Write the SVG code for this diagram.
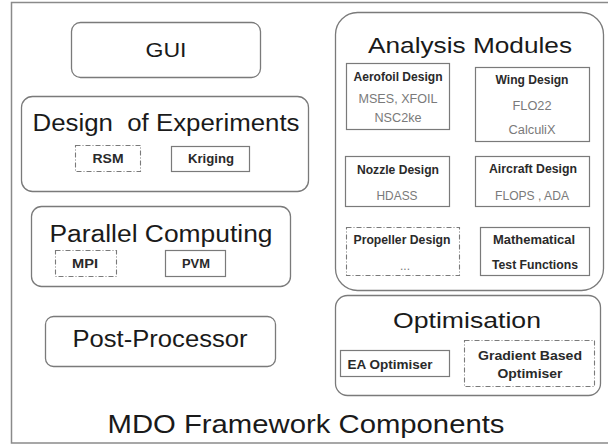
<svg xmlns="http://www.w3.org/2000/svg" width="608" height="445" viewBox="0 0 608 445">
<style>
.frame{fill:#fff;stroke:#8a8a8a;stroke-width:1.5}
.rbox{fill:#fff;stroke:#7a7a7a;stroke-width:1.3}
.box{fill:#fff;stroke:#7a7a7a;stroke-width:1.2}
.dbox{fill:#fff;stroke:#7a7a7a;stroke-width:1.1;stroke-dasharray:5 2 1 2}
.big{font-family:"Liberation Sans",Arial,sans-serif;fill:#1a1a1a;text-anchor:middle}
.sb{font-family:"Liberation Sans",Arial,sans-serif;font-weight:bold;font-size:12px;fill:#2a2a2a;text-anchor:middle}
.sg{font-family:"Liberation Sans",Arial,sans-serif;font-size:12px;fill:#7a7a7a;text-anchor:middle}
</style>
<rect x="0" y="0" width="608" height="445" fill="#fff"/>
<g id="frame">
<rect class="frame" x="11.5" y="2.5" width="600" height="440.5"/>
<text class="big" x="306" y="433" font-size="25" textLength="397" lengthAdjust="spacingAndGlyphs">MDO Framework Components</text>
</g>
<g id="connectors"/>
<g id="gui">
<rect class="rbox" x="71.5" y="22.5" width="189" height="55" rx="9"/>
<text class="big" x="166" y="57" font-size="20" textLength="41" lengthAdjust="spacingAndGlyphs">GUI</text>
</g>
<g id="doe">
<rect class="rbox" x="21.5" y="96.5" width="287" height="95" rx="11"/>
<text class="big" x="166" y="131" font-size="23" textLength="267" lengthAdjust="spacingAndGlyphs" xml:space="preserve">Design  of Experiments</text>
<g id="rsm"><rect class="dbox" x="75.5" y="145.5" width="65" height="26"/>
<text class="sb" x="108" y="163" textLength="31" lengthAdjust="spacingAndGlyphs">RSM</text></g>
<g id="kriging"><rect class="box" x="171.5" y="146.5" width="78" height="25"/>
<text class="sb" x="211" y="163" textLength="46" lengthAdjust="spacingAndGlyphs">Kriging</text></g>
</g>
<g id="parallel">
<rect class="rbox" x="31.5" y="206.5" width="259" height="80" rx="10"/>
<text class="big" x="161" y="242" font-size="23" textLength="223" lengthAdjust="spacingAndGlyphs">Parallel Computing</text>
<g id="mpi"><rect class="dbox" x="55.5" y="250.5" width="61" height="26"/>
<text class="sb" x="85" y="268" textLength="26" lengthAdjust="spacingAndGlyphs">MPI</text></g>
<g id="pvm"><rect class="box" x="165.5" y="250.5" width="60" height="26"/>
<text class="sb" x="196" y="268" textLength="28" lengthAdjust="spacingAndGlyphs">PVM</text></g>
</g>
<g id="post">
<rect class="rbox" x="45.5" y="316.5" width="230" height="50" rx="8"/>
<text class="big" x="160" y="347" font-size="23" textLength="175" lengthAdjust="spacingAndGlyphs">Post-Processor</text>
</g>
<g id="analysis">
<rect class="rbox" x="335.5" y="12.5" width="268" height="278" rx="22"/>
<text class="big" x="470" y="53" font-size="22" textLength="204" lengthAdjust="spacingAndGlyphs">Analysis Modules</text>
<g id="aerofoil"><rect class="box" x="346.5" y="63.5" width="103" height="66"/>
<text class="sb" x="398" y="81" textLength="89" lengthAdjust="spacingAndGlyphs">Aerofoil Design</text>
<text class="sg" x="398" y="103" textLength="79" lengthAdjust="spacingAndGlyphs">MSES, XFOIL</text>
<text class="sg" x="398" y="122" textLength="47" lengthAdjust="spacingAndGlyphs">NSC2ke</text></g>
<g id="wing"><rect class="box" x="475.5" y="67.5" width="114" height="74"/>
<text class="sb" x="532" y="84" textLength="73" lengthAdjust="spacingAndGlyphs">Wing Design</text>
<text class="sg" x="532" y="110" textLength="39" lengthAdjust="spacingAndGlyphs">FLO22</text>
<text class="sg" x="532" y="134" textLength="47" lengthAdjust="spacingAndGlyphs">CalculiX</text></g>
<g id="nozzle"><rect class="box" x="345.5" y="156.5" width="104" height="50"/>
<text class="sb" x="398" y="174" textLength="82" lengthAdjust="spacingAndGlyphs">Nozzle Design</text>
<text class="sg" x="397" y="200" textLength="41" lengthAdjust="spacingAndGlyphs">HDASS</text></g>
<g id="aircraft"><rect class="box" x="475.5" y="156.5" width="114" height="50"/>
<text class="sb" x="533" y="173" textLength="88" lengthAdjust="spacingAndGlyphs">Aircraft Design</text>
<text class="sg" x="532" y="200" textLength="74" lengthAdjust="spacingAndGlyphs">FLOPS , ADA</text></g>
<g id="propeller"><rect class="dbox" x="346.5" y="227.5" width="113" height="48"/>
<text class="sb" x="402" y="244" textLength="97" lengthAdjust="spacingAndGlyphs">Propeller Design</text>
<text class="sg" x="405" y="270" font-size="9">...</text></g>
<g id="math"><rect class="box" x="480.5" y="227.5" width="109" height="48"/>
<text class="sb" x="534" y="244" textLength="82" lengthAdjust="spacingAndGlyphs">Mathematical</text>
<text class="sb" x="535" y="269" textLength="86" lengthAdjust="spacingAndGlyphs">Test Functions</text></g>
</g>
<g id="optimisation">
<rect class="rbox" x="335.5" y="295.5" width="265" height="100" rx="12"/>
<text class="big" x="467" y="328" font-size="22" textLength="148" lengthAdjust="spacingAndGlyphs">Optimisation</text>
<g id="ea"><rect class="box" x="340.5" y="350.5" width="109" height="26"/>
<text class="sb" x="390" y="369" textLength="85" lengthAdjust="spacingAndGlyphs">EA Optimiser</text></g>
<g id="gradient"><rect class="dbox" x="464.5" y="340.5" width="130" height="46"/>
<text class="sb" x="530" y="360" textLength="104" lengthAdjust="spacingAndGlyphs">Gradient Based</text>
<text class="sb" x="530" y="378" textLength="65" lengthAdjust="spacingAndGlyphs">Optimiser</text></g>
</g>
</svg>
